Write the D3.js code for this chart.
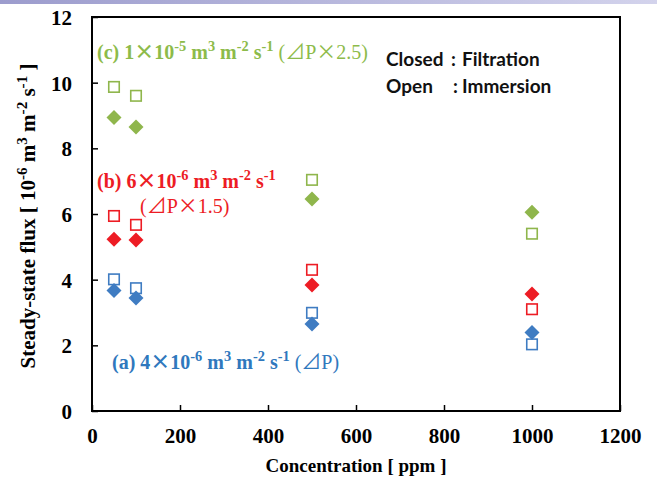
<!DOCTYPE html>
<html>
<head>
<meta charset="utf-8">
<script src="https://cdn.jsdelivr.net/npm/d3@7"></script>
<style>
  html, body { margin: 0; padding: 0; background: #fff; }
  svg { display: block; }
</style>
</head>
<body>
<svg id="chart" width="657" height="480"></svg>
<script>
// Concentrations measured (ppm)
const concentrations = [50, 100, 500, 1000];

// Steady-state flux [10^-6 m3 m-2 s-1]; closed = filtration, open = immersion
const fluxC_filtration = [8.94, 8.65, 6.46, 6.05];
const fluxC_immersion  = [9.87, 9.60, 7.04, 5.40];
const fluxB_filtration = [5.23, 5.21, 3.84, 3.56];
const fluxB_immersion  = [5.94, 5.67, 4.30, 3.10];
const fluxA_filtration = [3.67, 3.44, 2.65, 2.39];
const fluxA_immersion  = [4.01, 3.74, 2.99, 2.03];

const xTicks = [0, 200, 400, 600, 800, 1000, 1200];
const yTicks = [0, 2, 4, 6, 8, 10, 12];

const colors = { c: "#8fb64c", b: "#ed1c24", a: "#3f7cc2" };
const textColors = { c: "#8dbb4a", b: "#ed1c24", a: "#2f78bd" };

const series = [
  { key: "c", closed: fluxC_filtration, open: fluxC_immersion },
  { key: "b", closed: fluxB_filtration, open: fluxB_immersion },
  { key: "a", closed: fluxA_filtration, open: fluxA_immersion }
];

const svg = d3.select("#chart");
const W = 657, H = 480;
const m = { left: 92, right: 37, top: 17, bottom: 69 };

// Decorative gradient band along the top edge
const defs = svg.append("defs");
const grad = defs.append("linearGradient").attr("id", "band").attr("x1", "0").attr("x2", "1");
grad.append("stop").attr("offset", "0").attr("stop-color", "#9c9ccd");
grad.append("stop").attr("offset", "1").attr("stop-color", "#d3d3ec");
svg.append("rect").attr("x", 0).attr("y", 0).attr("width", W).attr("height", 4).attr("fill", "url(#band)");

const x = d3.scaleLinear().domain([0, 1200]).range([m.left, W - m.right]);
const y = d3.scaleLinear().domain([0, 12]).range([H - m.bottom, m.top]);

const serif = "'Liberation Serif', 'Times New Roman', serif";
const cjk = "'Noto Sans CJK JP', sans-serif";

// Frame
svg.append("rect")
  .attr("x", x(0)).attr("y", y(12))
  .attr("width", x(1200) - x(0)).attr("height", y(0) - y(12))
  .attr("fill", "none").attr("stroke", "#000").attr("stroke-width", 2);

// Axes with inward ticks
const xAxis = svg.append("g")
  .attr("transform", `translate(0,${y(0)})`)
  .call(d3.axisBottom(x).tickValues(xTicks).tickSize(-6).tickPadding(28).tickFormat(d3.format("d")));
const yAxis = svg.append("g")
  .attr("transform", `translate(${x(0)},0)`)
  .call(d3.axisLeft(y).tickValues(yTicks).tickSize(-6).tickPadding(20).tickFormat(d3.format("d")));

[xAxis, yAxis].forEach(g => {
  g.select(".domain").remove();
  g.selectAll(".tick line").attr("stroke", "#000").attr("stroke-width", 1.5);
  g.selectAll(".tick text")
    .attr("fill", "#000")
    .style("font-family", serif)
    .style("font-weight", "bold")
    .style("font-size", "21px");
});
xAxis.selectAll(".tick text").attr("dy", "0.2em");
yAxis.selectAll(".tick text").attr("dy", "0.35em");

// Rich text helper: segments with optional superscript / weight / font
function rich(g, xPos, yPos, segs, opts) {
  const t = g.append("text")
    .attr("x", xPos).attr("y", yPos)
    .attr("fill", opts.fill)
    .attr("text-anchor", opts.anchor || "start")
    .style("font-family", opts.family || serif)
    .style("font-size", opts.size + "px");
  if (opts.transform) t.attr("transform", opts.transform);
  let raised = false;
  const shift = opts.size * 0.4, supSize = opts.size * 0.72;
  segs.forEach(s => {
    const sp = t.append("tspan").text(s.t)
      .style("font-weight", s.w || "bold");
    if (s.font) sp.style("font-family", s.font);
    if (s.sup) {
      sp.style("font-size", supSize + "px");
      if (!raised) { sp.attr("dy", -shift); raised = true; }
    } else if (raised) { sp.attr("dy", shift); raised = false; }
  });
  return t;
}

// Axis titles
rich(svg, (x(0) + x(1200)) / 2, 472, [
  { t: "Concentration [ ppm ]" }
], { fill: "#000", size: 19, anchor: "middle" });

rich(svg, 0, 0, [
  { t: "Steady-state flux [ 10" }, { t: "-6", sup: true },
  { t: " m" }, { t: "3", sup: true },
  { t: " m" }, { t: "-2", sup: true },
  { t: " s" }, { t: "-1", sup: true },
  { t: " ]" }
], { fill: "#000", size: 21, anchor: "middle", transform: `translate(35,${(y(0) + y(12)) / 2 + 2}) rotate(-90)` });

// Markers
const plot = svg.append("g");
const sq = 12, dia = 15;
series.forEach(s => {
  const col = colors[s.key];
  plot.selectAll(null).data(concentrations.map((c, i) => [c, s.open[i]]))
    .enter().append("rect")
    .attr("x", d => x(d[0]) - sq / 2 + 0.75)
    .attr("y", d => y(d[1]) - sq / 2 + 0.75)
    .attr("width", sq - 1.5).attr("height", sq - 1.5)
    .attr("fill", "#fff").attr("stroke", col).attr("stroke-width", 1.6);
  plot.selectAll(null).data(concentrations.map((c, i) => [c, s.closed[i]]))
    .enter().append("path")
    .attr("d", d => {
      const cx = x(d[0]), cy = y(d[1]), r = dia / 2;
      return `M${cx},${cy - r}L${cx + r},${cy}L${cx},${cy + r}L${cx - r},${cy}Z`;
    })
    .attr("fill", col);
});

// Series annotations
const ann = svg.append("g");
const tri = "\u22bf", times = "\u00d7";
const unitsTail = [
  { t: " m" }, { t: "3", sup: true },
  { t: " m" }, { t: "-2", sup: true },
  { t: " s" }, { t: "-1", sup: true }
];
rich(ann, 97, 59, [
  { t: "(c) 1" }, { t: times, font: cjk }, { t: "10" }, { t: "-5", sup: true },
  ...unitsTail,
  { t: " (", w: "normal" }, { t: tri, w: "normal", font: cjk }, { t: "P", w: "normal" },
  { t: times, w: "normal", font: cjk }, { t: "2.5)", w: "normal" }
], { fill: textColors.c, size: 20 });

rich(ann, 97, 188, [
  { t: "(b) 6" }, { t: times, font: cjk }, { t: "10" }, { t: "-6", sup: true },
  ...unitsTail
], { fill: textColors.b, size: 20 });
rich(ann, 140, 213, [
  { t: "(", w: "normal" }, { t: tri, w: "normal", font: cjk }, { t: "P", w: "normal" },
  { t: times, w: "normal", font: cjk }, { t: "1.5)", w: "normal" }
], { fill: textColors.b, size: 20 });

rich(ann, 112, 369, [
  { t: "(a) 4" }, { t: times, font: cjk }, { t: "10" }, { t: "-6", sup: true },
  ...unitsTail,
  { t: " (", w: "normal" }, { t: tri, w: "normal", font: cjk }, { t: "P)", w: "normal" }
], { fill: textColors.a, size: 20 });

// Marker legend
const leg = svg.append("g")
  .style("font-family", "Lato, 'Open Sans', sans-serif")
  .style("font-size", "19px").style("font-weight", "bold").attr("fill", "#111");
leg.append("text").attr("x", 386).attr("y", 66).text("Closed");
leg.append("text").attr("x", 451).attr("y", 66).text(":");
leg.append("text").attr("x", 462).attr("y", 66).text("Filtration");
leg.append("text").attr("x", 386).attr("y", 93).text("Open");
leg.append("text").attr("x", 453).attr("y", 93).text(":");
leg.append("text").attr("x", 462).attr("y", 93).text("Immersion");
</script>
</body>
</html>
